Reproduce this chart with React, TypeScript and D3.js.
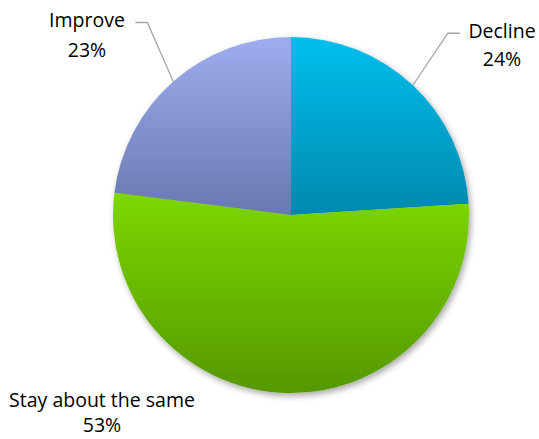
import React from "react";
import * as d3 from "d3";

const categories = ["Decline", "Stay about the same", "Improve"];
const values = [24, 53, 23];
const labelTexts = ["24%", "53%", "23%"];

const W = 539, H = 439;
const cx = 291, cy = 215, R = 178;

const gradStops = [
  ["#00BFEE", "#0089AD"],
  ["#7CD800", "#559800"],
  ["#9DADEE", "#6A78B0"],
];

export default function App() {
  const pie = d3.pie<number>().sort(null).value((d) => d)(values);
  const arc = d3.arc<d3.PieArcDatum<number>>().innerRadius(0).outerRadius(R);
  const font = "'Open Sans', sans-serif";
  const fs = 19.5;

  const labels = pie.map((p, i) => {
    const mid = (p.startAngle + p.endAngle) / 2;
    const ex = cx + R * Math.sin(mid);
    const ey = cy - R * Math.cos(mid);
    return { mid, ex, ey, i };
  });

  return (
    <svg width={W} height={H} style={{ position: "absolute", left: 0, top: 0 }}>
      <defs>
        {gradStops.map((g, i) => (
          <linearGradient key={i} id={`g${i}`} x1="0" y1="0" x2="0" y2="1">
            <stop offset="0" stopColor={g[0]} />
            <stop offset="1" stopColor={g[1]} />
          </linearGradient>
        ))}
        <filter id="sh" x="-20%" y="-20%" width="140%" height="140%">
          <feDropShadow dx="2" dy="3" stdDeviation="3" floodColor="#000" floodOpacity="0.35" />
        </filter>
      </defs>
      <g transform={`translate(${cx},${cy})`} filter="url(#sh)">
        {pie.map((p, i) => (
          <path key={categories[i]} d={arc(p) || ""} fill={`url(#g${i})`} />
        ))}
      </g>
      {/* Decline */}
      <polyline
        points={`${labels[0].ex},${labels[0].ey} ${labels[0].ex + 35},${labels[0].ey - 52} ${labels[0].ex + 47},${labels[0].ey - 52}`}
        fill="none" stroke="#A6A6A6" strokeWidth={1.3}
      />
      <text x={502} y={38} textAnchor="middle" fontFamily={font} fontSize={fs} fill="#000">{categories[0]}</text>
      <text x={502} y={66} textAnchor="middle" fontFamily={font} fontSize={fs} fill="#000">{labelTexts[0]}</text>
      {/* Improve */}
      <polyline
        points={`${labels[2].ex},${labels[2].ey} ${labels[2].ex - 26},${labels[2].ey - 59} ${labels[2].ex - 38},${labels[2].ey - 59}`}
        fill="none" stroke="#A6A6A6" strokeWidth={1.3}
      />
      <text x={87} y={27} textAnchor="middle" fontFamily={font} fontSize={fs} fill="#000">{categories[2]}</text>
      <text x={87} y={57} textAnchor="middle" fontFamily={font} fontSize={fs} fill="#000">{labelTexts[2]}</text>
      {/* Stay about the same */}
      <text x={102} y={407} textAnchor="middle" fontFamily={font} fontSize={fs} fill="#000">{categories[1]}</text>
      <text x={102} y={432} textAnchor="middle" fontFamily={font} fontSize={fs} fill="#000">{labelTexts[1]}</text>
    </svg>
  );
}
